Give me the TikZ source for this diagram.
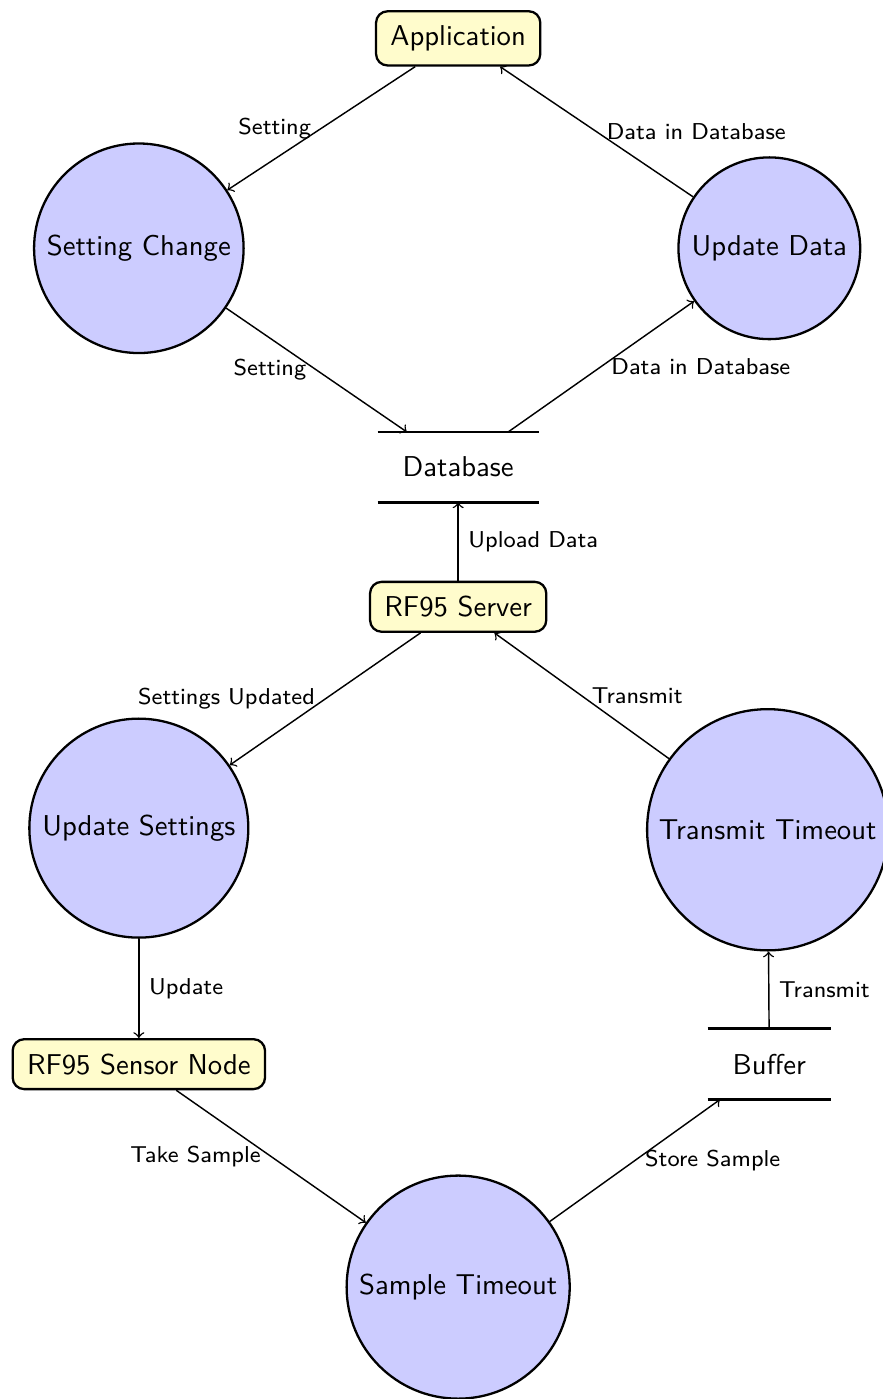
\documentclass[tikz,border=0pt]{standalone}
\usepackage{tikz}
\usetikzlibrary{positioning,arrows}
\tikzset{
  block/.style={draw,thick,fill=yellow!20,rounded corners=4pt,inner sep=5pt,font=\sffamily},
  proc/.style={circle,draw,thick,fill=blue!20,inner sep=3.6pt,font=\sffamily},
  store/.style={inner sep=0.3cm,font=\sffamily},
  storeline/.style={line width=1pt},
  flow/.style={->,line width=0.5pt},
  lbl/.style={font=\sffamily\footnotesize}
}
\begin{document}
\begin{tikzpicture}
    \useasboundingbox (0,0) rectangle (10.81,-17.13);
    % top half
    \node[block] (app) at (5.61,-0.47) {Application};
    \node[proc] (setchg) at (1.70,-3.04) {Setting Change};
    \node[proc] (upddata) at (9.42,-3.04) {Update Data};
    \node[store] (db) at (5.61,-5.72) {Database};
    \node[block] (server) at (5.61,-7.43) {RF95 Server};
    % bottom half
    \node[proc] (updset) at (1.70,-10.14) {Update Settings};
    \node[proc] (txto) at (9.40,-10.16) {Transmit Timeout};
    \node[block] (sensor) at (1.70,-13.03) {RF95 Sensor Node};
    \node[store] (buf) at (9.42,-13.03) {Buffer};
    \node[proc] (sampto) at (5.61,-15.76) {Sample Timeout};
    \foreach \s in {db,buf}{
      \draw[storeline] (\s.north west)--(\s.north east) (\s.south west)--(\s.south east);}
    \foreach \a/\b/\t/\p in {app/setchg/Setting/left, setchg/db/Setting/left,
        db/upddata/Data in Database/right, upddata/app/Data in Database/right,
        server/db/Upload Data/right, server/updset/Settings Updated/left,
        txto/server/Transmit/right, updset/sensor/Update/right,
        sensor/sampto/Take Sample/left, sampto/buf/Store Sample/right,
        buf/txto/Transmit/right}
      \draw[flow] (\a) -- node[lbl,\p] {\t} (\b);
  \end{tikzpicture}
\end{document}
